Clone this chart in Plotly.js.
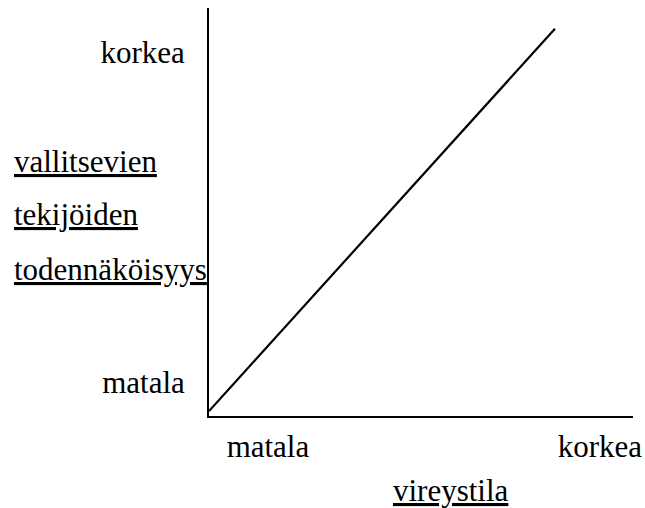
<!DOCTYPE html>
<html>
<head>
<meta charset="utf-8">
<script src="https://cdn.plot.ly/plotly-3.0.1.min.js"></script>
<style>
  html, body { margin: 0; padding: 0; background: #fff; }
  #chart { width: 645px; height: 508px; }
</style>
</head>
<body>
<div id="chart"></div>
<script>
// Vireystila (x) vs. vallitsevien tekijöiden todennäköisyys (y)
const vireystila = [0, 81.6];
const todennakoisyys = [1.2, 94.9];

// Axis end labels
const xTickVals = [13.9, 92.2];
const yTickVals = [8.3, 89.2];
const tickTexts = ['matala', 'korkea'];

// Axis titles
const xTitle = 'vireystila';
const yTitleLines = ['vallitsevien', 'tekijöiden', 'todennäköisyys'];

const FONT = '"Liberation Serif", "DejaVu Serif", serif';
const FS = 31;
const baseFont = { family: FONT, size: FS, color: '#000' };

const trace = {
  x: vireystila,
  y: todennakoisyys,
  type: 'scatter',
  mode: 'lines',
  line: { color: '#000', width: 2.2 },
  hoverinfo: 'skip',
  showlegend: false
};

// Three-line y title, each line underlined, left aligned
const yTitleY = [0.625, 0.495, 0.358];
const annotations = yTitleLines.map((t, i) => ({
  text: '<u>' + t + '</u>',
  xref: 'paper', yref: 'paper',
  x: -0.4646, y: yTitleY[i],
  xanchor: 'left', yanchor: 'middle',
  showarrow: false,
  font: baseFont
}));

// x title, underlined
annotations.push({
  text: '<u>' + xTitle + '</u>',
  xref: 'paper', yref: 'paper',
  x: 0.571, y: -0.182,
  xanchor: 'center', yanchor: 'middle',
  showarrow: false,
  font: baseFont
});

const layout = {
  width: 645,
  height: 508,
  margin: { l: 209, r: 12, t: 8, b: 92 },
  paper_bgcolor: '#fff',
  plot_bgcolor: '#fff',
  font: baseFont,
  showlegend: false,
  xaxis: {
    range: [0, 100],
    showgrid: false,
    zeroline: false,
    showline: true,
    linecolor: '#000',
    linewidth: 2,
    ticks: '',
    tickvals: xTickVals,
    ticktext: tickTexts,
    ticklabelstandoff: 2,
    tickfont: baseFont,
    fixedrange: true
  },
  yaxis: {
    range: [0, 100],
    showgrid: false,
    zeroline: false,
    showline: true,
    linecolor: '#000',
    linewidth: 2,
    ticks: '',
    tickvals: yTickVals,
    ticktext: tickTexts,
    ticklabelstandoff: 16,
    tickfont: baseFont,
    fixedrange: true
  },
  annotations: annotations
};

Plotly.newPlot('chart', [trace], layout, { displayModeBar: false, staticPlot: true });
</script>
</body>
</html>
